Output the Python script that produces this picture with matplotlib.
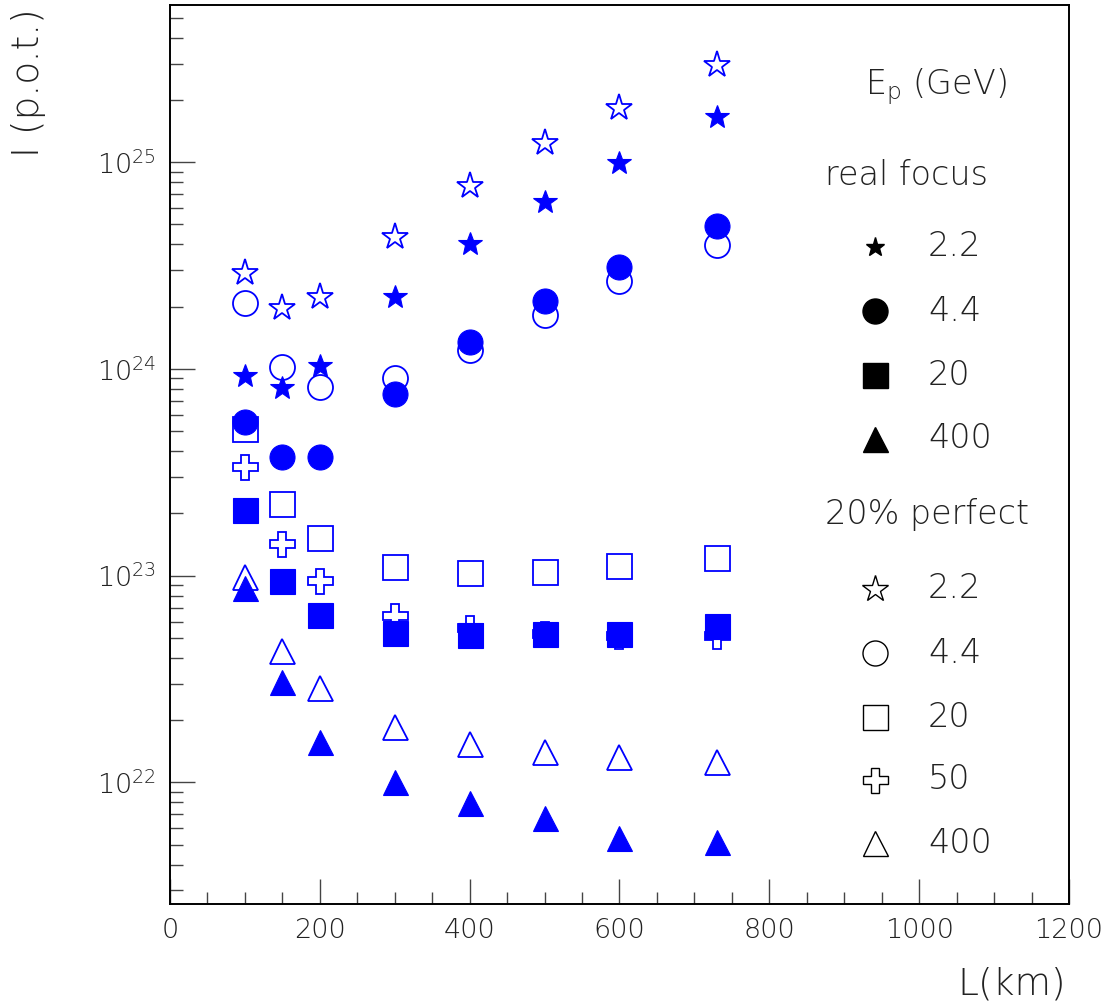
import matplotlib
matplotlib.use("Agg")
import matplotlib.pyplot as plt
from matplotlib.ticker import LogLocator, MultipleLocator, NullFormatter

plt.rcParams['font.family'] = ['DejaVu Sans']
plt.rcParams['font.weight'] = 'light'
plt.rcParams['mathtext.default'] = 'regular'

# baseline lengths (km)
L = [100, 150, 200, 300, 400, 500, 600, 730]

# protons on target needed, real focusing
real_22 = [9.2e23, 8.1e23, 1.03e24, 2.24e24, 4.0e24, 6.45e24, 9.9e24, 1.65e25]
real_44 = [5.56e23, 3.77e23, 3.77e23, 7.54e23, 1.35e24, 2.12e24, 3.12e24, 4.92e24]
real_20 = [2.08e23, 9.4e22, 6.45e22, 5.26e22, 5.14e22, 5.22e22, 5.22e22, 5.73e22]
real_400 = [8.75e22, 3.05e22, 1.56e22, 1.0e22, 7.98e21, 6.73e21, 5.38e21, 5.15e21]

# 20% of perfect focusing
perf_22 = [2.9e24, 1.97e24, 2.22e24, 4.35e24, 7.68e24, 1.24e25, 1.82e25, 2.96e25]
perf_44 = [2.08e24, 1.02e24, 8.21e23, 9.02e23, 1.24e24, 1.83e24, 2.65e24, 3.98e24]
perf_20 = [5.13e23, 2.21e23, 1.52e23, 1.105e23, 1.027e23, 1.045e23, 1.11e23, 1.22e23]
perf_50 = [3.37e23, 1.42e23, 9.43e22, 6.38e22, 5.57e22, 5.24e22, 5.11e22, 5.11e22]
perf_400 = [9.89e22, 4.34e22, 2.85e22, 1.85e22, 1.53e22, 1.41e22, 1.33e22, 1.26e22]

real_labels = ['2.2', '4.4', '20', '400']
perf_labels = ['2.2', '4.4', '20', '50', '400']

blue = '#0000ff'
ms = 18

fig = plt.figure(figsize=(11.09, 10.07), dpi=100)
ax = fig.add_axes([0.1533, 0.1023, 0.8106, 0.893])

# open markers first, filled ones on top
perf_series = [(perf_22, '*'), (perf_44, 'o'), (perf_20, 's'), (perf_50, 'P'), (perf_400, '^')]
for vals, m in perf_series:
    ax.plot(L, vals, linestyle='none', marker=m, markersize=ms + (2 if m == '*' else 0),
            markerfacecolor='white', markeredgecolor=blue, markeredgewidth=1.3)

real_series = [(real_22, '*'), (real_44, 'o'), (real_20, 's'), (real_400, '^')]
for vals, m in real_series:
    ax.plot(L, vals, linestyle='none', marker=m, markersize=ms, color=blue,
            markeredgewidth=0.8)

ax.set_yscale('log')
ax.set_xlim(0, 1200)
ax.set_ylim(2.58e21, 5.78e25)

ax.xaxis.set_major_locator(MultipleLocator(200))
ax.xaxis.set_minor_locator(MultipleLocator(50))
ax.yaxis.set_major_locator(LogLocator(base=10, numticks=10))
ax.yaxis.set_minor_locator(LogLocator(base=10, subs=range(2, 10), numticks=20))
ax.yaxis.set_minor_formatter(NullFormatter())

ax.tick_params(which='both', direction='in', top=False, right=False,
               labelsize=19.5, width=1, color='#444444', labelcolor='#222222')
ax.tick_params(which='major', length=18, pad=10)
ax.tick_params(which='minor', length=9)
for s in ax.spines.values():
    s.set_linewidth(1.4)

fig.text(0.026, 0.992, 'I (p.o.t.)', rotation=90, ha='center', va='top',
         fontsize=27, color='#222222')
fig.text(0.961, 0.012, 'L(km)', ha='right', va='baseline', fontsize=27,
         color='#222222')

# key on the right
tx = dict(transform=ax.transAxes, fontsize=24, color='#222222', va='center')
ax.text(0.773, 0.9085, 'E$_{p}$ (GeV)', **tx)
ax.text(0.7286, 0.8106, 'real focus', **tx)
ax.text(0.7286, 0.4326, '20% perfect', **tx)

real_marks = ['*', 'o', 's', '^']
real_rows = [0.7306, 0.6594, 0.5882, 0.5171]
for m, lab, yy in zip(real_marks, real_labels, real_rows):
    ax.plot([0.784], [yy], transform=ax.transAxes, marker=m, color='black',
            markersize=14 if m == '*' else ms, linestyle='none', clip_on=False)
    ax.text(0.843, yy, lab, **tx)

perf_marks = ['*', 'o', 's', 'P', '^']
perf_rows = [0.3503, 0.2791, 0.2079, 0.1379, 0.0678]
for m, lab, yy in zip(perf_marks, perf_labels, perf_rows):
    ax.plot([0.784], [yy], transform=ax.transAxes, marker=m, markerfacecolor='white',
            markeredgecolor='black', markeredgewidth=1.0,
            markersize=ms + (2 if m == '*' else 0), linestyle='none', clip_on=False)
    ax.text(0.843, yy, lab, **tx)

fig.savefig('out.png', dpi=100)
